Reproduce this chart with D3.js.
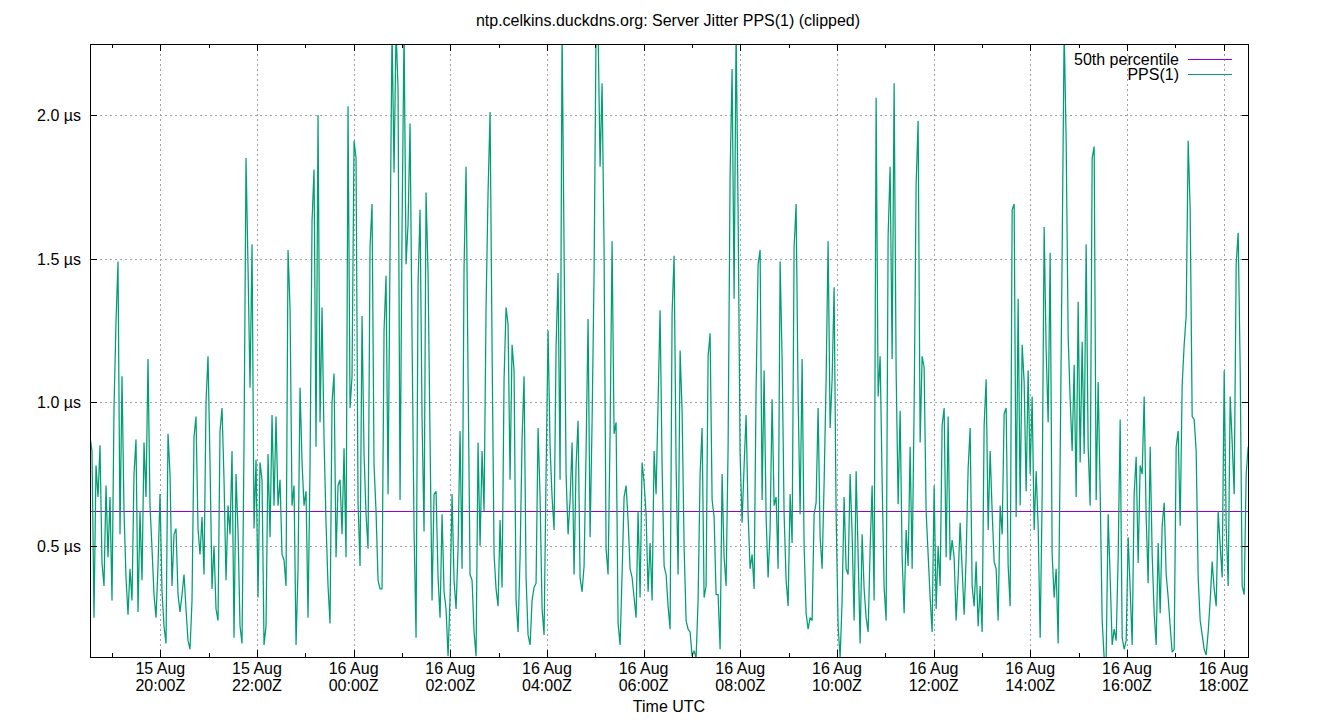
<!DOCTYPE html>
<html><head><meta charset="utf-8">
<script src="https://cdn.jsdelivr.net/npm/d3@7"></script>
<style>
body{margin:0;background:#fff}
svg{display:block}
text{font-family:"Liberation Sans",Arial,sans-serif;font-size:16px;fill:#000}
</style>
</head><body>
<svg id="c" width="1340" height="720"></svg>
<script>
const titleText = "ntp.celkins.duckdns.org: Server Jitter PPS(1) (clipped)";
const xAxisTitle = "Time UTC";
const seriesNames = ["50th percentile", "PPS(1)"];
const medianUs = 0.62;
const startTime = "2024-08-15T18:32:43Z";
const stepSeconds = 149;
const domainStart = "2024-08-15T18:32:43Z";
const domainEnd = "2024-08-16T18:31:35Z";
const yDomain = [0.113, 2.247];
const yTicks = [0.5, 1.0, 1.5, 2.0];
const yTickLabels = ["0.5 µs", "1.0 µs", "1.5 µs", "2.0 µs"];

// PPS(1) server jitter, µs
const jitterUs = [
0.88,0.83,0.25,0.78,0.67,0.85,0.44,0.36,0.71,0.46,0.67,0.31,0.98,1.28,1.49,0.54,1.09,0.62,0.39,0.26,
0.42,0.31,0.75,0.87,0.27,0.62,0.38,0.86,0.67,1.15,0.64,0.49,0.33,0.25,0.43,0.68,0.34,0.22,0.16,0.89,
0.75,0.36,0.54,0.56,0.33,0.27,0.33,0.40,0.28,0.17,0.14,0.31,0.88,0.95,0.56,0.47,0.60,0.40,1.0,1.16,
0.79,0.35,0.50,0.28,0.24,0.90,0.98,0.73,0.38,0.64,0.54,0.83,0.18,0.75,
0.55,0.22,0.16,0.85,1.85,1.47,1.05,1.55,0.56,0.80,0.32,0.79,0.73,0.155,0.22,0.82,0.53,0.955,0.64,0.95,
0.64,0.73,0.47,0.45,0.36,1.53,1.33,0.64,0.71,0.155,0.42,1.05,0.79,0.64,0.69,0.25,0.78,1.63,1.81,0.845,
2.0,0.93,1.33,0.87,0.58,0.36,0.23,1.0,1.10,0.46,0.71,0.73,0.54,0.84,0.46,2.03,0.98,1.09,1.91,1.85,
0.65,0.43,1.30,0.82,0.61,0.49,1.54,1.69,0.78,0.62,0.38,0.35,
0.35,1.25,1.44,0.68,1.53,2.3,1.8,2.3,2.09,0.66,1.60,2.3,1.48,1.62,1.97,1.23,0.555,0.18,1.41,1.67,
0.94,0.55,1.73,1.45,0.87,0.31,0.68,0.69,0.39,0.25,0.61,0.34,0.28,0.116,0.32,0.68,0.38,0.28,0.49,0.90,
0.42,1.47,1.82,1.09,0.40,0.38,0.20,0.116,0.86,0.50,0.83,0.62,1.33,1.73,2.01,1.19,0.47,0.35,0.29,0.59,
0.355,1.08,1.33,1.27,0.73,1.20,1.11,0.31,0.20,0.46,0.87,1.09,0.39,
0.19,0.155,0.31,0.355,0.37,0.91,0.67,0.28,0.19,0.75,1.25,0.845,0.67,0.555,1.19,1.45,0.73,2.3,1.53,0.75,
0.54,0.66,0.86,0.40,0.78,0.935,0.39,0.34,0.43,0.83,1.29,0.53,0.93,1.45,2.3,2.3,1.82,2.11,1.53,0.49,
0.40,0.89,1.56,0.89,0.93,0.23,0.155,0.40,0.67,0.71,0.59,0.42,0.39,0.32,0.25,0.62,0.32,0.79,0.72,0.61,
0.34,0.51,0.31,0.83,0.68,1.0,1.32,0.78,0.43,0.40,0.29,0.21,
1.31,1.51,0.78,0.40,1.18,0.97,0.50,0.24,0.21,0.20,0.116,0.135,0.11,0.31,0.75,0.91,0.32,0.36,1.16,1.24,
0.66,0.60,0.33,0.33,0.14,0.75,0.46,0.36,0.845,1.79,2.16,1.36,2.3,1.66,0.82,0.58,0.78,0.955,0.61,0.42,
0.47,0.35,1.05,1.48,1.53,0.66,1.11,0.60,0.39,0.555,1.01,0.64,0.67,0.42,1.49,1.15,0.61,0.38,0.29,0.68,
0.51,1.54,1.69,1.02,0.61,1.15,0.50,0.265,0.21,0.25,0.24,0.61,0.65,
0.98,0.53,0.42,0.72,1.08,1.56,0.91,1.08,1.40,0.61,0.22,0.11,0.31,0.67,0.42,0.40,0.75,0.54,0.24,0.76,
0.47,0.16,0.54,0.35,0.25,0.20,0.49,0.71,0.31,2.06,1.02,1.16,0.73,0.355,0.24,1.58,1.82,1.15,2.11,1.11,
0.645,0.97,0.46,0.265,0.555,0.43,0.845,0.42,0.98,1.76,1.98,0.86,1.16,1.12,0.62,0.47,0.32,0.20,0.71,0.28,
0.50,0.36,0.92,0.98,0.46,0.95,0.45,0.52,0.46,0.24,0.39,0.58,
0.42,0.26,0.46,0.77,0.91,0.36,0.29,0.445,0.22,0.36,0.20,0.92,1.08,0.555,0.83,0.62,0.445,0.42,0.24,0.64,
0.54,0.96,0.98,0.43,0.29,1.67,1.69,0.60,1.36,0.64,1.20,1.07,0.69,1.11,0.75,1.02,0.555,0.76,0.57,0.18,
0.67,1.61,1.18,0.93,1.52,0.47,0.32,0.42,0.16,0.80,1.52,2.3,1.91,1.23,1.01,0.83,1.13,0.67,1.35,0.79,
1.21,0.82,1.55,0.845,0.64,1.85,1.89,0.66,1.07,0.69,0.24,0.11,0.11,
0.61,0.39,0.155,0.21,0.17,0.46,0.94,0.18,0.14,0.17,0.53,0.35,0.155,0.68,0.81,0.44,0.78,0.75,1.02,0.60,
0.37,0.845,0.47,0.265,0.155,0.51,0.265,0.57,0.65,0.40,0.32,0.22,0.13,0.14,0.845,0.90,0.57,1.06,1.20,1.30,
1.91,1.67,0.95,0.94,0.83,0.39,0.24,0.19,0.14,0.12,0.20,0.31,0.445,0.35,0.29,0.62,0.50,0.39,1.11,0.57,
0.36,1.02,0.86,0.68,1.48,1.59,1.12,0.36,0.33,0.75,0.845
];

const colors = {median: "#9400d3", pps: "#009e73", grid: "#a0a0a0"};

const svg = d3.select("#c");
const L = 90, R = 1249, T = 44, B = 657;

const x = d3.scaleUtc().domain([new Date(domainStart), new Date(domainEnd)]).range([L, R]);
const y = d3.scaleLinear().domain(yDomain).range([B, T]);

const t0 = new Date(startTime).getTime();
const data = jitterUs.map((v, i) => ({t: new Date(t0 + i * stepSeconds * 1000), v}));

const majorX = d3.utcHour.every(2).range(x.domain()[0], x.domain()[1]);
const minorX = d3.utcHour.range(x.domain()[0], x.domain()[1]);

// title
svg.append("text").attr("x", 668).attr("y", 26).attr("text-anchor", "middle").text(titleText);

// grid
const g = svg.append("g");
g.selectAll(".gx").data(majorX).join("line")
  .attr("x1", d => Math.round(x(d)) + 0.5).attr("x2", d => Math.round(x(d)) + 0.5)
  .attr("y1", T).attr("y2", B)
  .attr("stroke", colors.grid).attr("stroke-width", 1).attr("stroke-dasharray", "2,3");
g.selectAll(".gy").data(yTicks).join("line")
  .attr("x1", L).attr("x2", R)
  .attr("y1", d => Math.round(y(d)) + 0.5).attr("y2", d => Math.round(y(d)) + 0.5)
  .attr("stroke", colors.grid).attr("stroke-width", 1).attr("stroke-dasharray", "2,3");

// clip
svg.append("clipPath").attr("id", "clip").append("rect")
  .attr("x", L).attr("y", T).attr("width", R - L).attr("height", B - T);

const plot = svg.append("g").attr("clip-path", "url(#clip)");
// median
plot.append("line")
  .attr("x1", L).attr("x2", R)
  .attr("y1", Math.round(y(medianUs)) + 0.5).attr("y2", Math.round(y(medianUs)) + 0.5)
  .attr("stroke", colors.median).attr("stroke-width", 1);
// series
const line = d3.line().x(d => x(d.t)).y(d => y(d.v));
plot.append("path").datum(data).attr("d", line)
  .attr("fill", "none").attr("stroke", colors.pps).attr("stroke-width", 1.25)
  .attr("stroke-linejoin", "miter").attr("stroke-miterlimit", 2);

// ticks
const tk = svg.append("g").attr("stroke", "#000").attr("stroke-width", 1);
minorX.forEach(d => {
  const xx = Math.round(x(d)) + 0.5;
  const major = d.getUTCHours() % 2 === 0;
  const len = major ? 7 : 4;
  tk.append("line").attr("x1", xx).attr("x2", xx).attr("y1", B).attr("y2", B - len);
  tk.append("line").attr("x1", xx).attr("x2", xx).attr("y1", T).attr("y2", T + len);
});
yTicks.forEach(d => {
  const yy = Math.round(y(d)) + 0.5;
  tk.append("line").attr("x1", L).attr("x2", L + 7).attr("y1", yy).attr("y2", yy);
  tk.append("line").attr("x1", R).attr("x2", R - 7).attr("y1", yy).attr("y2", yy);
});

// frame
svg.append("rect").attr("x", L + 0.5).attr("y", T + 0.5).attr("width", R - L - 1).attr("height", B - T)
  .attr("fill", "none").attr("stroke", "#000").attr("stroke-width", 1);

// y labels
yTicks.forEach((d, i) => {
  svg.append("text").attr("x", 81).attr("y", y(d) + 6).attr("text-anchor", "end").text(yTickLabels[i]);
});

// x labels
const fmtD = d3.utcFormat("%d %b"), fmtT = d3.utcFormat("%H:%MZ");
majorX.forEach(d => {
  const xx = x(d);
  svg.append("text").attr("x", xx).attr("y", 674).attr("text-anchor", "middle").text(fmtD(d));
  svg.append("text").attr("x", xx).attr("y", 691).attr("text-anchor", "middle").text(fmtT(d));
});
svg.append("text").attr("x", 669).attr("y", 712).attr("text-anchor", "middle").text(xAxisTitle);

// legend
const leg = [{name: seriesNames[0], c: colors.median, y: 59}, {name: seriesNames[1], c: colors.pps, y: 74}];
leg.forEach(l => {
  svg.append("text").attr("x", 1179).attr("y", l.y + 6).attr("text-anchor", "end").text(l.name);
  svg.append("line").attr("x1", 1188).attr("x2", 1232).attr("y1", l.y + 0.5).attr("y2", l.y + 0.5)
    .attr("stroke", l.c).attr("stroke-width", 1.2);
});
</script>
</body></html>
